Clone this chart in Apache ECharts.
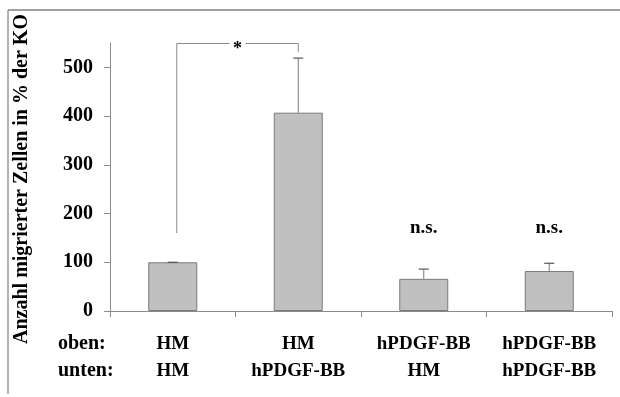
<!DOCTYPE html>
<html>
<head>
<meta charset="utf-8">
<script src="https://cdn.jsdelivr.net/npm/echarts@6/dist/echarts.min.js"></script>
<style>
  html, body { margin: 0; padding: 0; background: #ffffff; }
  #chart { width: 620px; height: 397px; }
</style>
</head>
<body>
<div id="chart"></div>
<script>
// Migration assay: upper / lower chamber conditions
const upperLabels = ['HM', 'HM', 'hPDGF-BB', 'hPDGF-BB'];
const lowerLabels = ['HM', 'hPDGF-BB', 'HM', 'hPDGF-BB'];
const meanValues = [100, 407, 66, 82];
const errorValues = [0, 112, 20, 16];
const significance = ['', '', 'n.s.', 'n.s.'];
const yTicks = [0, 100, 200, 300, 400, 500];

const categories = upperLabels.map((u, i) => u + '\n' + lowerLabels[i]);

const FONT = '"Liberation Serif", "Times New Roman", serif';
const AXIS_COLOR = '#8a8a8a';
const NS_LEVEL = 170;          // height of the "n.s." annotations
const BRACKET_TOP = 549;       // height of the significance bracket
const BRACKET_LEFT_END = 160;
const BRACKET_RIGHT_END = 531;

const chart = echarts.init(document.getElementById('chart'), null, { renderer: 'canvas' });

const option = {
  animation: false,
  backgroundColor: '#ffffff',
  grid: { left: 110, right: 8, top: 43, bottom: 86, containLabel: false },
  xAxis: {
    type: 'category',
    data: categories,
    boundaryGap: true,
    axisLine: { lineStyle: { color: AXIS_COLOR, width: 1 } },
    axisTick: { show: true, interval: 0, length: 6, lineStyle: { color: AXIS_COLOR } },
    axisLabel: {
      interval: 0, margin: 20, lineHeight: 27,
      fontFamily: FONT, fontWeight: 'bold', fontSize: 19, color: '#000'
    },
    splitLine: { show: false }
  },
  yAxis: {
    type: 'value',
    min: 0, max: 550, interval: 100,
    axisLine: { show: true, lineStyle: { color: AXIS_COLOR, width: 1 } },
    axisTick: { show: true, length: 6, customValues: yTicks, lineStyle: { color: AXIS_COLOR } },
    axisLabel: {
      customValues: yTicks, margin: 17,
      fontFamily: FONT, fontWeight: 'bold', fontSize: 20, color: '#000'
    },
    splitLine: { show: false }
  },
  series: [
    {
      type: 'bar',
      data: meanValues,
      barWidth: 49,
      itemStyle: { color: '#c0c0c0', borderColor: '#7a7a7a', borderWidth: 1 },
      z: 2
    },
    {
      // error bars (upper whisker with cap)
      type: 'custom',
      data: meanValues.map((v, i) => [i, v, errorValues[i]]),
      renderItem: function (params, api) {
        const i = api.value(0);
        const v = api.value(1);
        const e = api.value(2);
        const base = api.coord([i, v]);
        const top = api.coord([i, v + e]);
        const cap = 5;
        return {
          type: 'group',
          children: [
            { type: 'line', shape: { x1: base[0], y1: base[1], x2: top[0], y2: top[1] },
              style: { stroke: '#7a7a7a', lineWidth: 1 } },
            { type: 'line', shape: { x1: top[0] - cap, y1: top[1], x2: top[0] + cap, y2: top[1] },
              style: { stroke: '#555555', lineWidth: 1.2 } }
          ]
        };
      },
      z: 3
    },
    {
      // "n.s." annotations
      type: 'custom',
      data: significance.map((s, i) => [i, NS_LEVEL, s]),
      renderItem: function (params, api) {
        const i = api.value(0);
        const p = api.coord([i, api.value(1)]);
        return {
          type: 'text',
          style: {
            x: p[0], y: p[1], text: significance[i],
            align: 'center', verticalAlign: 'middle',
            font: 'bold 19px ' + FONT, fill: '#000'
          }
        };
      },
      z: 4
    },
    {
      // significance bracket between the first two groups
      type: 'custom',
      data: [[0, 1]],
      renderItem: function (params, api) {
        const a = api.value(0), b = api.value(1);
        const l = api.coord([a, BRACKET_LEFT_END]);
        const lt = api.coord([a, BRACKET_TOP]);
        const r = api.coord([b, BRACKET_RIGHT_END]);
        const rt = api.coord([b, BRACKET_TOP]);
        const x1 = l[0] + 4, x2 = r[0];
        const mid = (x1 + x2) / 2;
        const gap = 8;
        const st = { stroke: '#8a8a8a', lineWidth: 1 };
        return {
          type: 'group',
          children: [
            { type: 'line', shape: { x1: x1, y1: l[1], x2: x1, y2: lt[1] }, style: st },
            { type: 'line', shape: { x1: x1, y1: lt[1], x2: mid - gap, y2: lt[1] }, style: st },
            { type: 'line', shape: { x1: mid + gap, y1: rt[1], x2: x2, y2: rt[1] }, style: st },
            { type: 'line', shape: { x1: x2, y1: rt[1], x2: x2, y2: r[1] }, style: st },
            { type: 'text', style: { x: mid, y: lt[1] + 6, text: '*', align: 'center',
              verticalAlign: 'middle', font: 'bold 18px ' + FONT, fill: '#000' } }
          ]
        };
      },
      z: 4
    }
  ],
  graphic: [
    { type: 'line', shape: { x1: 8, y1: 10, x2: 620, y2: 10 },
      style: { stroke: '#808080', lineWidth: 1.5 } },
    { type: 'line', shape: { x1: 8, y1: 10, x2: 8, y2: 394 },
      style: { stroke: '#808080', lineWidth: 1.2 } },
    { type: 'text', x: 22, y: 179, rotation: Math.PI / 2,
      style: { text: 'Anzahl migrierter Zellen in % der KO', align: 'center',
        verticalAlign: 'middle', font: 'bold 20px ' + FONT, fill: '#000' } },
    { type: 'text', x: 58, y: 344,
      style: { text: 'oben:', align: 'left', verticalAlign: 'middle',
        font: 'bold 20px ' + FONT, fill: '#000' } },
    { type: 'text', x: 58, y: 371,
      style: { text: 'unten:', align: 'left', verticalAlign: 'middle',
        font: 'bold 20px ' + FONT, fill: '#000' } }
  ]
};

chart.setOption(option);
</script>
</body>
</html>
